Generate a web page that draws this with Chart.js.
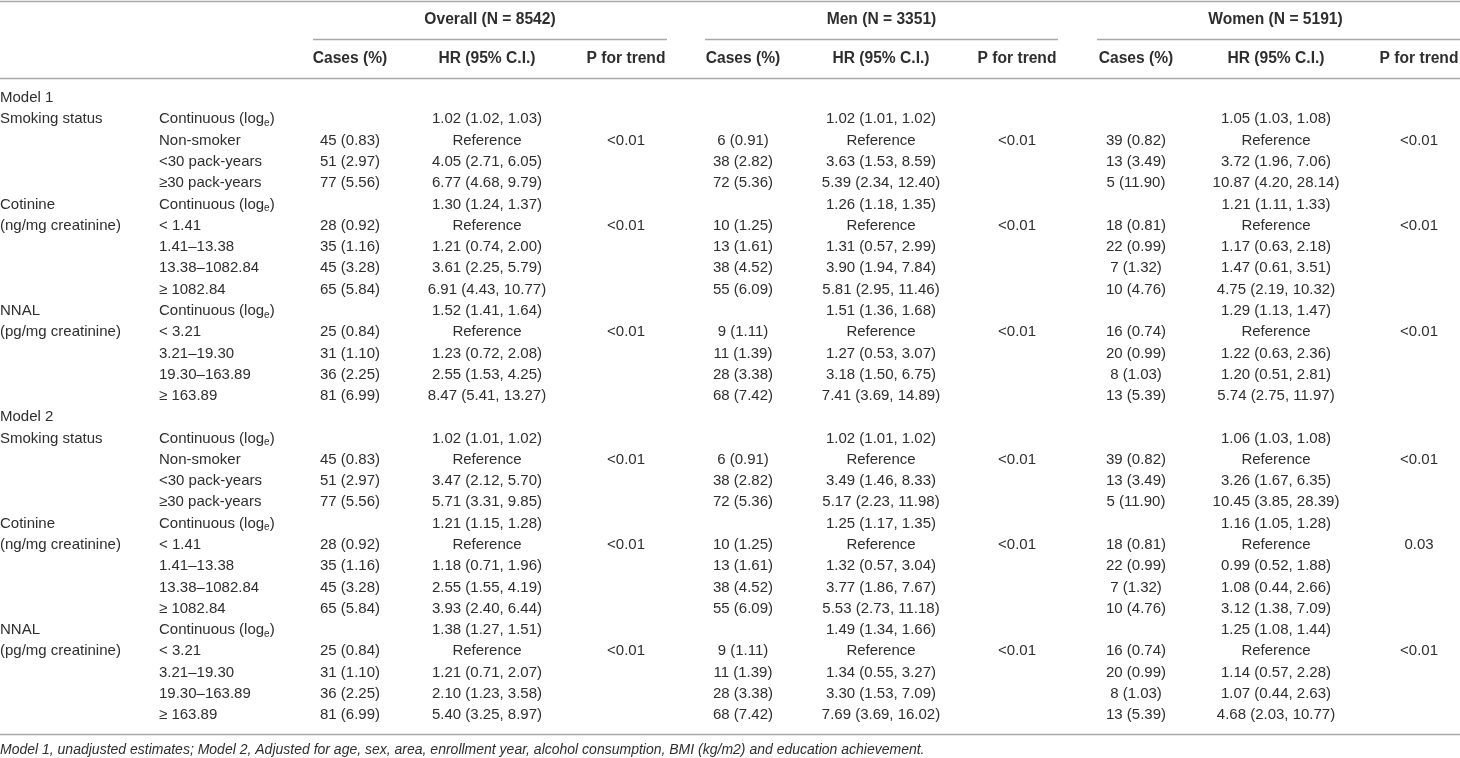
<!DOCTYPE html>
<html>
<head>
<meta charset="utf-8">
<script src="https://cdn.jsdelivr.net/npm/chart.js@4"></script>
<style>
  body { margin: 0; background: #fff; }
  #wrap { width: 1460px; height: 758px; }
</style>
</head>
<body>
<div id="wrap"><canvas id="tbl" width="1460" height="758"></canvas></div>
<script>
// ---- table content ----
var groupHeaders = ["Overall (N = 8542)", "Men (N = 3351)", "Women (N = 5191)"];
var subHeaders = ["Cases (%)", "HR (95% C.I.)", "P for trend"];

var modelLabels = ["Model 1", "Model 2"];
var varLabels = ["Smoking status", "", "", "", "Cotinine", "(ng/mg creatinine)", "", "", "", "NNAL", "(pg/mg creatinine)", "", "", ""];
var levelLabels = ["Continuous (log_e)", "Non-smoker", "<30 pack-years", "\u226530 pack-years",
  "Continuous (log_e)", "< 1.41", "1.41\u201313.38", "13.38\u20131082.84", "\u2265 1082.84",
  "Continuous (log_e)", "< 3.21", "3.21\u201319.30", "19.30\u2013163.89", "\u2265 163.89"];

var overallCases = ["", "45 (0.83)", "51 (2.97)", "77 (5.56)", "", "28 (0.92)", "35 (1.16)", "45 (3.28)", "65 (5.84)", "", "25 (0.84)", "31 (1.10)", "36 (2.25)", "81 (6.99)"];
var overallHR1 = ["1.02 (1.02, 1.03)", "Reference", "4.05 (2.71, 6.05)", "6.77 (4.68, 9.79)", "1.30 (1.24, 1.37)", "Reference", "1.21 (0.74, 2.00)", "3.61 (2.25, 5.79)", "6.91 (4.43, 10.77)", "1.52 (1.41, 1.64)", "Reference", "1.23 (0.72, 2.08)", "2.55 (1.53, 4.25)", "8.47 (5.41, 13.27)"];
var overallHR2 = ["1.02 (1.01, 1.02)", "Reference", "3.47 (2.12, 5.70)", "5.71 (3.31, 9.85)", "1.21 (1.15, 1.28)", "Reference", "1.18 (0.71, 1.96)", "2.55 (1.55, 4.19)", "3.93 (2.40, 6.44)", "1.38 (1.27, 1.51)", "Reference", "1.21 (0.71, 2.07)", "2.10 (1.23, 3.58)", "5.40 (3.25, 8.97)"];
var overallP1 = ["", "<0.01", "", "", "", "<0.01", "", "", "", "", "<0.01", "", "", ""];
var overallP2 = ["", "<0.01", "", "", "", "<0.01", "", "", "", "", "<0.01", "", "", ""];

var menCases = ["", "6 (0.91)", "38 (2.82)", "72 (5.36)", "", "10 (1.25)", "13 (1.61)", "38 (4.52)", "55 (6.09)", "", "9 (1.11)", "11 (1.39)", "28 (3.38)", "68 (7.42)"];
var menHR1 = ["1.02 (1.01, 1.02)", "Reference", "3.63 (1.53, 8.59)", "5.39 (2.34, 12.40)", "1.26 (1.18, 1.35)", "Reference", "1.31 (0.57, 2.99)", "3.90 (1.94, 7.84)", "5.81 (2.95, 11.46)", "1.51 (1.36, 1.68)", "Reference", "1.27 (0.53, 3.07)", "3.18 (1.50, 6.75)", "7.41 (3.69, 14.89)"];
var menHR2 = ["1.02 (1.01, 1.02)", "Reference", "3.49 (1.46, 8.33)", "5.17 (2.23, 11.98)", "1.25 (1.17, 1.35)", "Reference", "1.32 (0.57, 3.04)", "3.77 (1.86, 7.67)", "5.53 (2.73, 11.18)", "1.49 (1.34, 1.66)", "Reference", "1.34 (0.55, 3.27)", "3.30 (1.53, 7.09)", "7.69 (3.69, 16.02)"];
var menP1 = ["", "<0.01", "", "", "", "<0.01", "", "", "", "", "<0.01", "", "", ""];
var menP2 = ["", "<0.01", "", "", "", "<0.01", "", "", "", "", "<0.01", "", "", ""];

var womenCases = ["", "39 (0.82)", "13 (3.49)", "5 (11.90)", "", "18 (0.81)", "22 (0.99)", "7 (1.32)", "10 (4.76)", "", "16 (0.74)", "20 (0.99)", "8 (1.03)", "13 (5.39)"];
var womenHR1 = ["1.05 (1.03, 1.08)", "Reference", "3.72 (1.96, 7.06)", "10.87 (4.20, 28.14)", "1.21 (1.11, 1.33)", "Reference", "1.17 (0.63, 2.18)", "1.47 (0.61, 3.51)", "4.75 (2.19, 10.32)", "1.29 (1.13, 1.47)", "Reference", "1.22 (0.63, 2.36)", "1.20 (0.51, 2.81)", "5.74 (2.75, 11.97)"];
var womenHR2 = ["1.06 (1.03, 1.08)", "Reference", "3.26 (1.67, 6.35)", "10.45 (3.85, 28.39)", "1.16 (1.05, 1.28)", "Reference", "0.99 (0.52, 1.88)", "1.08 (0.44, 2.66)", "3.12 (1.38, 7.09)", "1.25 (1.08, 1.44)", "Reference", "1.14 (0.57, 2.28)", "1.07 (0.44, 2.63)", "4.68 (2.03, 10.77)"];
var womenP1 = ["", "<0.01", "", "", "", "<0.01", "", "", "", "", "<0.01", "", "", ""];
var womenP2 = ["", "<0.01", "", "", "", "0.03", "", "", "", "", "<0.01", "", "", ""];

var footnote = "Model 1, unadjusted estimates; Model 2, Adjusted for age, sex, area, enrollment year, alcohol consumption, BMI (kg/m2) and education achievement.";

// ---- layout (pixels on the x scale, row units on the y scale) ----
var colX = [0, 159, 350, 487, 626, 743, 881, 1017, 1136, 1276, 1419];
var groupSpan = [[313, 667], [705, 1058], [1097, 1460]];
var rowH = 21.28, firstRowY = 98;
var yMin = -firstRowY / rowH, yMax = yMin + 758 / rowH;
function rowOf(px) { return (px - firstRowY) / rowH; }

var textColor = "#2e2e2e";
var lineColor = "#a8a8a8";
var font = "'Liberation Sans', Arial, sans-serif";

// full 30-row columns: model row + 14 rows per model
function both(a, b) { return [""].concat(a, [""], b); }
var columns = [
  { texts: [modelLabels[0]].concat(varLabels, [modelLabels[1]], varLabels), align: "left" },
  { texts: both(levelLabels, levelLabels), align: "left" },
  { texts: both(overallCases, overallCases), align: "center" },
  { texts: both(overallHR1, overallHR2), align: "center" },
  { texts: both(overallP1, overallP2), align: "center" },
  { texts: both(menCases, menCases), align: "center" },
  { texts: both(menHR1, menHR2), align: "center" },
  { texts: both(menP1, menP2), align: "center" },
  { texts: both(womenCases, womenCases), align: "center" },
  { texts: both(womenHR1, womenHR2), align: "center" },
  { texts: both(womenP1, womenP2), align: "center" }
];

var datasets = columns.map(function (c, ci) {
  var pts = [], txt = [];
  c.texts.forEach(function (t, ri) {
    if (t !== "") { pts.push({ x: colX[ci], y: ri }); txt.push(t); }
  });
  return { data: pts, texts: txt, align: c.align, pointRadius: 0, showLine: false };
});

// draw "log_e" with a subscript e
function drawCell(ctx, t, x, y, align) {
  var parts = t.split("_e");
  if (parts.length === 1) {
    ctx.textAlign = align;
    ctx.fillText(t, x, y);
    return;
  }
  ctx.textAlign = "left";
  ctx.font = "15px " + font;
  var w0 = ctx.measureText(parts[0]).width;
  ctx.fillText(parts[0], x, y);
  ctx.font = "10px " + font;
  var w1 = ctx.measureText("e").width;
  ctx.fillText("e", x + w0, y + 4);
  ctx.font = "15px " + font;
  ctx.fillText(parts[1], x + w0 + w1, y);
}

var tablePlugin = {
  id: "tableText",
  afterDatasetsDraw: function (chart) {
    var ctx = chart.ctx, xs = chart.scales.x, ys = chart.scales.y;
    ctx.save();
    ctx.textBaseline = "middle";
    ctx.fillStyle = textColor;

    // rules
    ctx.strokeStyle = lineColor;
    ctx.lineWidth = 1.6;
    function hline(x1, x2, py) {
      var y = Math.round(ys.getPixelForValue(rowOf(py))) + 0.5;
      ctx.beginPath();
      ctx.moveTo(xs.getPixelForValue(x1), y);
      ctx.lineTo(xs.getPixelForValue(x2), y);
      ctx.stroke();
    }
    hline(0, 1460, 1);
    groupSpan.forEach(function (s) { hline(s[0], s[1], 39.5); });
    hline(0, 1460, 78);
    hline(0, 1460, 734);

    // headers
    ctx.font = "bold 15.6px " + font;
    ctx.textAlign = "center";
    groupHeaders.forEach(function (h, g) {
      var cx = (groupSpan[g][0] + groupSpan[g][1]) / 2 + (g === 2 ? -3 : 0);
      ctx.fillText(h, xs.getPixelForValue(cx), ys.getPixelForValue(rowOf(20)));
    });
    for (var g = 0; g < 3; g++) {
      subHeaders.forEach(function (h, k) {
        ctx.fillText(h, xs.getPixelForValue(colX[2 + g * 3 + k]), ys.getPixelForValue(rowOf(59)));
      });
    }

    // body cells, placed at the dataset points
    ctx.font = "15px " + font;
    chart.data.datasets.forEach(function (ds, di) {
      var meta = chart.getDatasetMeta(di);
      meta.data.forEach(function (el, i) {
        drawCell(ctx, ds.texts[i], el.x, el.y, ds.align);
      });
    });

    // footnote
    ctx.font = "italic 14px " + font;
    ctx.textAlign = "left";
    ctx.fillText(footnote, xs.getPixelForValue(0), ys.getPixelForValue(rowOf(750)));
    ctx.restore();
  }
};

new Chart(document.getElementById("tbl").getContext("2d"), {
  type: "scatter",
  data: { datasets: datasets },
  options: {
    responsive: false,
    animation: false,
    devicePixelRatio: 1,
    layout: { padding: 0 },
    plugins: { legend: { display: false }, tooltip: { enabled: false } },
    scales: {
      x: { type: "linear", display: false, min: 0, max: 1460 },
      y: { type: "linear", display: false, reverse: true, min: yMin, max: yMax }
    }
  },
  plugins: [tablePlugin]
});
</script>
</body>
</html>
